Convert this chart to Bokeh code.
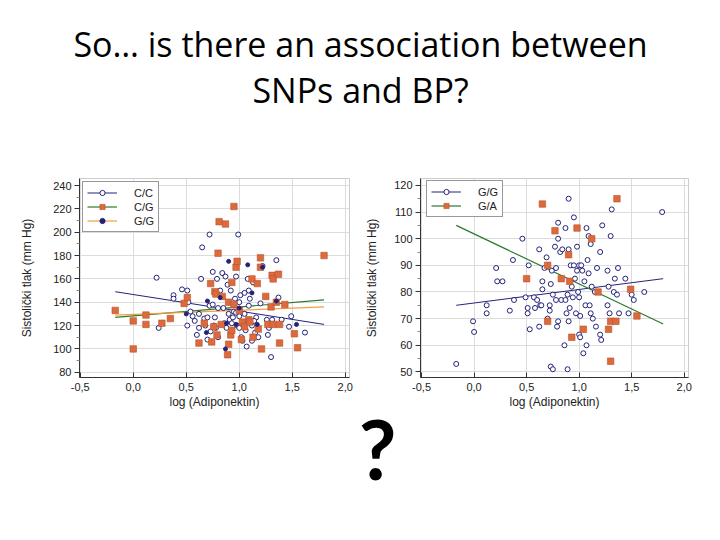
from bokeh.plotting import figure
from bokeh.models import (Range1d, FixedTicker, CustomJSTickFormatter, Legend,
                          LegendItem, Label)
from bokeh.layouts import column, row
from bokeh.embed import file_html
from bokeh.resources import INLINE
from bokeh.core.validation import silence
from bokeh.core.validation.warnings import MISSING_RENDERERS

silence(MISSING_RENDERERS, True)

# ---------------- data: left chart (C/C, C/G, G/G) ----------------
cc_x = [0.22, 0.24, 0.38, 0.38, 0.46, 0.51, 0.51, 0.52, 0.54, 0.58, 0.60, 0.62, 0.64, 0.65, 0.67,
        0.68, 0.70, 0.72, 0.72, 0.73, 0.75, 0.75, 0.77, 0.78, 0.79, 0.80, 0.82, 0.84, 0.85, 0.86,
        0.87, 0.88, 0.89, 0.90, 0.91, 0.92, 0.94, 0.95, 0.96, 0.97, 0.98, 0.99, 1.00, 1.00, 1.01,
        1.02, 1.03, 1.05, 1.06, 1.07, 1.08, 1.09, 1.09, 1.10, 1.12, 1.13, 1.15, 1.16, 1.18, 1.20,
        1.22, 1.26, 1.27, 1.28, 1.30, 1.31, 1.35, 1.37, 1.40, 1.47, 1.49, 1.62, 0.93, 0.80, 1.05,
        1.04, 1.12, 1.00, 0.97, 1.14, 0.84, 0.70, 0.76, 0.62, 0.56]
cc_y = [161, 118, 146, 143, 151, 150, 120, 140, 132, 124, 112, 130, 160, 187, 126,
        120, 108, 198, 137, 115, 166, 138, 127, 118, 160, 110, 150, 165, 135, 122,
        162, 118, 155, 130, 125, 150, 127, 132, 143, 162, 120, 198, 128, 140, 146,
        110, 107, 130, 116, 102, 160, 150, 137, 143, 120, 157, 114, 127, 110, 139,
        171, 125, 112, 118, 93, 125, 176, 144, 125, 119, 128, 114, 122, 135, 148,
        121, 107, 118, 131, 124, 121, 127, 120, 118, 128]

cg_x = [-0.17, 0.00, 0.00, 0.12, 0.12, 0.27, 0.35, 0.48, 0.51, 0.62, 0.67, 0.74, 0.73, 0.77, 0.78,
        0.79, 0.80, 0.81, 0.83, 0.84, 0.87, 0.89, 0.90, 0.92, 0.93, 0.93, 0.95, 0.95, 0.97, 0.98,
        1.00, 1.02, 1.03, 1.05, 1.09, 1.10, 1.12, 1.13, 1.17, 1.18, 1.20, 1.20, 1.21, 1.25, 1.27,
        1.30, 1.31, 1.32, 1.32, 1.35, 1.37, 1.38, 1.38, 1.43, 1.52, 1.55, 1.80, 0.90, 0.76]
cg_y = [133, 124, 100, 121, 129, 122, 126, 139, 144, 105, 122, 106, 156, 149, 147,
        112, 182, 209, 121, 145, 207, 95, 140, 112, 116, 157, 222, 138, 170, 175,
        133, 108, 123, 119, 125, 123, 160, 110, 156, 117, 178, 170, 100, 145, 121,
        136, 163, 160, 121, 140, 164, 121, 105, 138, 113, 101, 180, 104, 119]

gg_x = [0.50, 0.69, 0.70, 0.82, 0.87, 0.88, 0.90, 0.97, 1.00, 1.08, 1.12, 1.17, 1.22, 1.35, 1.54]
gg_y = [130, 114, 141, 144, 100, 122, 175, 121, 135, 172, 148, 121, 170, 141, 121]

fit_x = [-0.17, 1.80]
cc_fit_y = [149, 121]
cg_fit_y = [127, 142]
gg_fit_y = [129, 136]

# ---------------- data: right chart (G/G, G/A) ----------------
rgg_x = [-0.17, -0.01, 0.00, 0.12, 0.12, 0.21, 0.22, 0.27, 0.34, 0.37,
         0.38, 0.46, 0.49, 0.51, 0.51, 0.52, 0.53, 0.57, 0.58, 0.60,
         0.62, 0.62, 0.63, 0.64, 0.65, 0.65, 0.67, 0.69, 0.70, 0.72,
         0.72, 0.73, 0.73, 0.74, 0.75, 0.75, 0.77, 0.78, 0.78, 0.79,
         0.80, 0.80, 0.80, 0.82, 0.83, 0.84, 0.86, 0.87, 0.87, 0.88,
         0.89, 0.89, 0.90, 0.90, 0.90, 0.91, 0.92, 0.93, 0.94, 0.95,
         0.95, 0.96, 0.97, 0.98, 0.98, 0.99, 1.00, 1.00, 1.00, 1.01,
         1.01, 1.02, 1.03, 1.04, 1.05, 1.06, 1.07, 1.07, 1.08, 1.09,
         1.09, 1.10, 1.11, 1.11, 1.12, 1.13, 1.15, 1.16, 1.17, 1.20,
         1.20, 1.21, 1.22, 1.27, 1.27, 1.28, 1.29, 1.30, 1.31, 1.33,
         1.34, 1.36, 1.37, 1.38, 1.44, 1.47, 1.50, 1.52, 1.62, 1.79]
rgg_y = [53, 69, 65, 75, 72, 89, 84, 84, 73, 92,
         77, 100, 78, 72, 74, 90, 66, 78, 74, 77,
         96, 67, 75, 75, 81, 84, 89, 93, 70, 75,
         73, 52, 83, 88, 79, 51, 97, 77, 89, 67,
         106, 100, 69, 95, 77, 96, 60, 104, 77, 72,
         79, 51, 115, 96, 69, 74, 90, 82, 78, 108,
         90, 85, 72, 97, 88, 80, 90, 78, 64, 63,
         71, 90, 88, 57, 84, 75, 60, 104, 92, 87,
         101, 75, 98, 72, 82, 70, 80, 67, 89, 95,
         64, 62, 105, 88, 75, 82, 72, 101, 111, 80,
         85, 79, 89, 72, 85, 72, 79, 77, 80, 110]

ga_x = [0.50, 0.65, 0.70, 0.70, 0.77, 0.83, 0.90, 0.91, 0.93, 0.98,
        1.04, 1.12, 1.18, 1.28, 1.30, 1.30, 1.35, 1.36, 1.49, 1.55]
ga_y = [85, 113, 90, 69, 103, 85, 94, 84, 63, 104,
        66, 100, 80, 66, 69, 54, 69, 115, 81, 71]

rgg_fit_y = [75, 85]
ga_fit_y = [105, 68]

x_ticks = [-0.5, 0.0, 0.5, 1.0, 1.5, 2.0]
left_y_ticks = [80, 100, 120, 140, 160, 180, 200, 220, 240]
left_y_minor = [90, 110, 130, 150, 170, 190, 210, 230]
right_y_ticks = [50, 60, 70, 80, 90, 100, 110, 120]
right_y_minor = [55, 65, 75, 85, 95, 105, 115]

title_lines = ["So… is there an association between", "SNPs and BP?"]
x_title = "log (Adiponektin)"
y_title = "Sistolički tlak (mm Hg)"

NAVY = "#23237a"
ORANGE = "#dd6a3c"
ORANGE_EDGE = "#b9542c"
GREEN = "#2c7a2c"
LORANGE = "#f0a040"
FONT = "Liberation Sans"


def make_chart(xr, yr, yticks, yminor, min_left, frame_w, right, ylab_standoff):
    p = figure(frame_width=frame_w, frame_height=199,
               min_border_left=min_left, min_border_right=right,
               min_border_top=6, min_border_bottom=35,
               x_range=Range1d(*xr), y_range=Range1d(*yr),
               output_backend="svg", toolbar_location=None,
               background_fill_color="white", border_fill_color="white")
    p.outline_line_color = "#cccccc"
    p.grid.grid_line_color = "#dcdcdc"
    p.xaxis.ticker = FixedTicker(ticks=x_ticks)
    p.yaxis.ticker = FixedTicker(ticks=yticks, minor_ticks=yminor)
    p.xgrid.ticker = FixedTicker(ticks=x_ticks)
    p.ygrid.ticker = FixedTicker(ticks=yticks)
    p.xaxis.formatter = CustomJSTickFormatter(code="return tick.toFixed(1).replace('.', ',');")
    for ax in (p.xaxis[0], p.yaxis[0]):
        ax.axis_line_color = "#333333"
        ax.major_tick_line_color = "#333333"
        ax.minor_tick_line_color = "#888888"
        ax.minor_tick_out = 3
        ax.minor_tick_in = 0
        ax.major_label_text_font = FONT
        ax.major_label_text_font_size = "11px"
        ax.major_label_text_color = "#222222"
        ax.axis_label_text_font = FONT
        ax.axis_label_text_font_size = "12px"
        ax.axis_label_text_font_style = "normal"
        ax.axis_label_text_color = "#222222"
    # x axis: ticks point into the plot, no minor ticks
    p.xaxis.major_tick_in = 5
    p.xaxis.major_tick_out = 0
    p.xaxis.minor_tick_line_color = None
    # y axis: ticks point outward
    p.yaxis.major_tick_in = 0
    p.yaxis.major_tick_out = 5
    p.xaxis.axis_label = x_title
    p.yaxis.axis_label = y_title
    p.xaxis.major_label_standoff = 5
    p.xaxis.axis_label_standoff = 1
    p.yaxis.major_label_standoff = 3
    p.yaxis.axis_label_standoff = ylab_standoff
    return p


def style_legend(p, items, loc):
    leg = Legend(items=items, location=loc)
    leg.label_text_font = FONT
    leg.label_text_font_size = "11px"
    leg.label_text_color = "#222222"
    leg.glyph_width = 30
    leg.glyph_height = 13
    leg.label_height = 13
    leg.label_standoff = 17
    leg.spacing = 1
    leg.padding = 4
    leg.margin = 0
    leg.border_line_color = "#333333"
    leg.border_line_width = 1
    leg.background_fill_alpha = 1
    p.add_layout(leg)


# ---------------- left chart ----------------
p1 = make_chart((-0.507, 2.04), (75.5, 246), left_y_ticks, left_y_minor, 79, 270, 13, 16)
l_cc = p1.line(fit_x, cc_fit_y, line_color=NAVY, line_width=1)
l_cg = p1.line(fit_x, cg_fit_y, line_color=GREEN, line_width=1.2)
l_gg = p1.line(fit_x, gg_fit_y, line_color=LORANGE, line_width=1.2)
s_cc = p1.scatter(cc_x, cc_y, marker="circle", size=5, fill_color="white",
                  line_color=NAVY, line_width=1)
s_cg = p1.scatter(cg_x, cg_y, marker="square", size=6.5, fill_color=ORANGE,
                  line_color=ORANGE_EDGE, line_width=0.6)
s_gg = p1.scatter(gg_x, gg_y, marker="circle", size=4, fill_color=NAVY,
                  line_color=NAVY)
style_legend(p1, [LegendItem(label="C/C", renderers=[l_cc, s_cc]),
                  LegendItem(label="C/G", renderers=[l_cg, s_cg]),
                  LegendItem(label="G/G", renderers=[l_gg, s_gg])], (3, 145))

# ---------------- right chart ----------------
p2 = make_chart((-0.51, 2.041), (47.9, 122.6), right_y_ticks, right_y_minor, 56, 268, 14, 12)
r_gg = p2.line(fit_x, rgg_fit_y, line_color=NAVY, line_width=1)
r_ga = p2.line(fit_x, ga_fit_y, line_color=GREEN, line_width=1.2)
rs_gg = p2.scatter(rgg_x, rgg_y, marker="circle", size=5, fill_color="white",
                   line_color=NAVY, line_width=1)
rs_ga = p2.scatter(ga_x, ga_y, marker="square", size=6.5, fill_color=ORANGE,
                   line_color=ORANGE_EDGE, line_width=0.6)
style_legend(p2, [LegendItem(label="G/G", renderers=[r_gg, rs_gg]),
                  LegendItem(label="G/A", renderers=[r_ga, rs_ga])], (6, 160))


# ---------------- title and question mark ----------------
def blank(h):
    f = figure(width=704, height=h, x_range=Range1d(0, 1), y_range=Range1d(0, 1),
               output_backend="svg", toolbar_location=None, min_border=0,
               background_fill_alpha=0, border_fill_alpha=0)
    f.axis.visible = False
    f.grid.visible = False
    f.outline_line_color = None
    return f


pt = blank(172)
for txt, yy in zip(title_lines, (129, 83)):
    pt.add_layout(Label(x=360, y=yy, x_units="screen", y_units="screen", text=txt,
                        text_align="center", text_baseline="alphabetic",
                        text_font="Open Sans", text_font_size="34px", text_color="#000000"))

pq = blank(142)
pq.margin = (-30, 0, 0, 0)
pq.add_layout(Label(x=377, y=77, x_units="screen", y_units="screen", text="?",
                    text_align="center", text_baseline="alphabetic",
                    text_font="Lato", text_font_style="bold", text_font_size="82px",
                    text_color="#000000"))

layout = column(pt, row(p1, p2), pq)
open("out.html", "w").write(file_html(layout, INLINE))
